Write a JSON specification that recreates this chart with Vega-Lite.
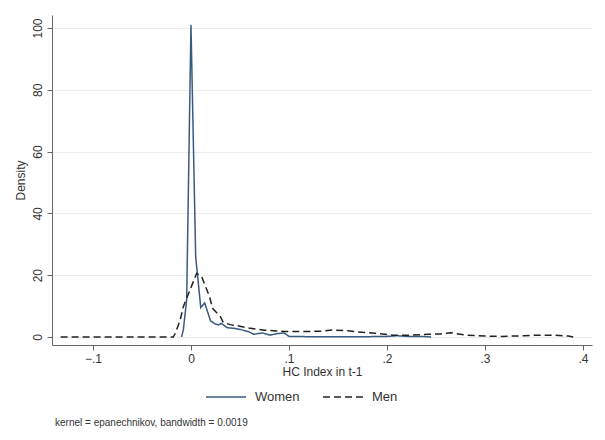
{
  "$schema": "https://vega.github.io/schema/vega-lite/v6.json",
  "width": 540,
  "height": 330,
  "autosize": {"type": "none"},
  "padding": {"left": 52, "top": 15, "right": 13, "bottom": 95},
  "background": "white",
  "config": {
    "view": {"stroke": null},
    "font": "Liberation Sans",
    "axis": {"labelFont": "Liberation Sans", "titleFont": "Liberation Sans"},
    "legend": {"labelFont": "Liberation Sans"}
  },
  "title": {
    "text": "kernel = epanechnikov, bandwidth = 0.0019",
    "orient": "bottom",
    "anchor": "start",
    "frame": "group",
    "fontSize": 10,
    "fontWeight": "normal",
    "color": "#333333",
    "dx": 3,
    "offset": 14
  },
  "data": {
    "values": [
      {"group": "Women", "x": -0.0096, "density": 0},
      {"group": "Women", "x": -0.0078, "density": 2.3},
      {"group": "Women", "x": -0.0044, "density": 12},
      {"group": "Women", "x": 0.0, "density": 101},
      {"group": "Women", "x": 0.0048, "density": 26},
      {"group": "Women", "x": 0.010, "density": 9.5},
      {"group": "Women", "x": 0.014, "density": 11},
      {"group": "Women", "x": 0.020, "density": 5.2},
      {"group": "Women", "x": 0.025, "density": 4.2},
      {"group": "Women", "x": 0.028, "density": 3.9},
      {"group": "Women", "x": 0.031, "density": 4.4},
      {"group": "Women", "x": 0.037, "density": 3.0},
      {"group": "Women", "x": 0.044, "density": 2.8},
      {"group": "Women", "x": 0.051, "density": 2.4},
      {"group": "Women", "x": 0.059, "density": 1.7},
      {"group": "Women", "x": 0.064, "density": 0.9},
      {"group": "Women", "x": 0.073, "density": 1.3},
      {"group": "Women", "x": 0.081, "density": 0.6},
      {"group": "Women", "x": 0.088, "density": 1.1},
      {"group": "Women", "x": 0.095, "density": 1.3},
      {"group": "Women", "x": 0.100, "density": 0.2},
      {"group": "Women", "x": 0.12, "density": 0.1},
      {"group": "Women", "x": 0.15, "density": 0.1},
      {"group": "Women", "x": 0.18, "density": 0.1},
      {"group": "Women", "x": 0.20, "density": 0.2},
      {"group": "Women", "x": 0.21, "density": 0.4},
      {"group": "Women", "x": 0.22, "density": 0.2},
      {"group": "Women", "x": 0.235, "density": 0.2},
      {"group": "Women", "x": 0.245, "density": 0},
      {"group": "Men", "x": -0.133, "density": 0},
      {"group": "Men", "x": -0.018, "density": 0},
      {"group": "Men", "x": -0.016, "density": 1.2},
      {"group": "Men", "x": -0.011, "density": 5.5},
      {"group": "Men", "x": -0.0078, "density": 9.8},
      {"group": "Men", "x": 0.0058, "density": 20.6},
      {"group": "Men", "x": 0.011, "density": 19.5},
      {"group": "Men", "x": 0.019, "density": 13},
      {"group": "Men", "x": 0.022, "density": 9.3},
      {"group": "Men", "x": 0.030, "density": 6.6},
      {"group": "Men", "x": 0.033, "density": 4.7},
      {"group": "Men", "x": 0.040, "density": 4.0},
      {"group": "Men", "x": 0.050, "density": 3.5},
      {"group": "Men", "x": 0.059, "density": 2.9},
      {"group": "Men", "x": 0.075, "density": 2.2},
      {"group": "Men", "x": 0.096, "density": 1.75},
      {"group": "Men", "x": 0.115, "density": 1.75},
      {"group": "Men", "x": 0.133, "density": 1.9},
      {"group": "Men", "x": 0.144, "density": 2.3},
      {"group": "Men", "x": 0.160, "density": 2.0},
      {"group": "Men", "x": 0.175, "density": 1.5},
      {"group": "Men", "x": 0.188, "density": 1.2},
      {"group": "Men", "x": 0.206, "density": 0.6},
      {"group": "Men", "x": 0.225, "density": 0.6},
      {"group": "Men", "x": 0.243, "density": 0.9},
      {"group": "Men", "x": 0.255, "density": 1.0},
      {"group": "Men", "x": 0.265, "density": 1.4},
      {"group": "Men", "x": 0.280, "density": 0.6},
      {"group": "Men", "x": 0.300, "density": 0.3},
      {"group": "Men", "x": 0.317, "density": 0.2},
      {"group": "Men", "x": 0.340, "density": 0.4},
      {"group": "Men", "x": 0.354, "density": 0.6},
      {"group": "Men", "x": 0.372, "density": 0.6},
      {"group": "Men", "x": 0.385, "density": 0.3},
      {"group": "Men", "x": 0.390, "density": 0}
    ]
  },
  "mark": {"type": "line", "strokeWidth": 1.5},
  "encoding": {
    "x": {
      "field": "x",
      "type": "quantitative",
      "scale": {"domain": [-0.1418, 0.4092], "nice": false, "zero": false},
      "axis": {
        "title": "HC Index in t-1",
        "values": [-0.1, 0, 0.1, 0.2, 0.3, 0.4],
        "labelExpr": "datum.value == 0 ? '0' : replace(format(datum.value, '.1f'), '0.', '.')",
        "grid": false,
        "domainColor": "#666666",
        "tickColor": "#666666",
        "tickSize": 5,
        "labelFontSize": 12,
        "labelColor": "#333333",
        "labelPadding": 3,
        "titleFontSize": 12,
        "titleFontWeight": "normal",
        "titleColor": "#333333",
        "titlePadding": 2
      }
    },
    "y": {
      "field": "density",
      "type": "quantitative",
      "scale": {"domain": [-2.59, 104.2], "nice": false, "zero": false},
      "axis": {
        "title": "Density",
        "values": [0, 20, 40, 60, 80, 100],
        "grid": true,
        "gridColor": "#ececec",
        "gridWidth": 1,
        "domainColor": "#666666",
        "tickColor": "#666666",
        "tickSize": 5,
        "labelAngle": 270,
        "labelFontSize": 12,
        "labelColor": "#333333",
        "labelPadding": 3,
        "titleFontSize": 12,
        "titleFontWeight": "normal",
        "titleColor": "#333333",
        "titlePadding": 4
      }
    },
    "color": {
      "field": "group",
      "type": "nominal",
      "scale": {"domain": ["Women", "Men"], "range": ["#3a5a80", "#222222"]},
      "legend": {
        "title": null,
        "orient": "none",
        "legendX": 153,
        "legendY": 361,
        "direction": "horizontal",
        "symbolType": "stroke",
        "symbolSize": 1600,
        "symbolStrokeWidth": 1.5,
        "labelFontSize": 13,
        "labelColor": "#333333",
        "labelOffset": 8,
        "columnPadding": 20
      }
    },
    "strokeDash": {
      "field": "group",
      "type": "nominal",
      "scale": {"domain": ["Women", "Men"], "range": [[1, 0], [7, 4]]},
      "legend": {
        "title": null,
        "orient": "none",
        "legendX": 153,
        "legendY": 361,
        "direction": "horizontal",
        "symbolType": "stroke",
        "symbolSize": 1600,
        "symbolStrokeWidth": 1.5,
        "labelFontSize": 13,
        "labelColor": "#333333",
        "labelOffset": 8,
        "columnPadding": 20
      }
    }
  }
}
